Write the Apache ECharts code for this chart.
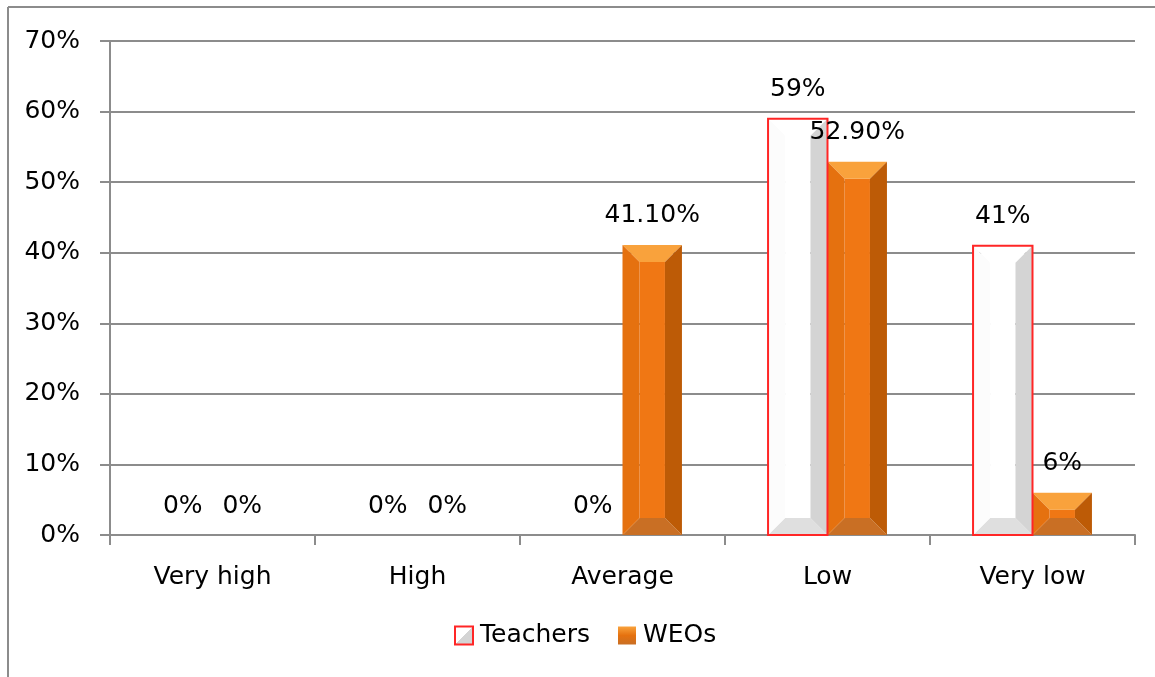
<!DOCTYPE html>
<html>
<head>
<meta charset="utf-8">
<script src="https://cdn.jsdelivr.net/npm/echarts@6/dist/echarts.min.js"></script>
<style>
  html, body { margin: 0; padding: 0; background: #fff; }
  #chart { width: 1155px; height: 677px; }
</style>
</head>
<body>
<div id="chart"></div>
<script>
// data
var categories = ['Very high', 'High', 'Average', 'Low', 'Very low'];
var teachers = [0, 0, 0, 59, 41];
var weos = [0, 0, 41.1, 52.9, 6];
var teacherLabels = ['0%', '0%', '0%', '59%', '41%'];
var weoLabels = ['0%', '0%', '41.10%', '52.90%', '6%'];
var yTicks = [0, 10, 20, 30, 40, 50, 60, 70];

var FONT = '"DejaVu Sans"';
var FS = 25;

// face colours for the bevelled bars
var skins = {
  Teachers: {
    top: '#ffffff', left: '#fcfcfc', mid: '#ffffff', right: '#d4d4d4', bottom: '#dfdfdf',
    border: '#ff2626', offset: -1
  },
  WEOs: {
    top: '#f9a23c', left: '#e5710f', mid: '#f07714', right: '#bd5b06', bottom: '#c96f24',
    border: null, offset: 0
  }
};

function barBox(api, skin) {
  var idx = api.value(0);
  var val = api.value(1);
  var band = api.size([1, 0])[0];
  var w = band * 0.29;
  var base = api.coord([idx, 0]);
  var top = api.coord([idx, val]);
  var x0 = base[0] + skin.offset * w;
  return { x0: x0, x1: x0 + w, w: w, yT: top[1], yB: base[1] };
}

function bevelBar(name) {
  var skin = skins[name];
  return function (params, api) {
    var r = barBox(api, skin);
    var x0 = r.x0, x1 = r.x1, yT = r.yT, yB = r.yB;
    var h = yB - yT;
    var kids = [];
    if (h > 0.5) {
      var b = Math.min(17, h / 2, r.w / 2);
      function poly(pts, c) {
        return { type: 'polygon', shape: { points: pts }, style: { fill: c } };
      }
      kids.push(poly([[x0 + b, yT + b], [x1 - b, yT + b], [x1 - b, yB - b], [x0 + b, yB - b]], skin.mid));
      kids.push(poly([[x0, yT], [x1, yT], [x1 - b, yT + b], [x0 + b, yT + b]], skin.top));
      kids.push(poly([[x0, yB], [x1, yB], [x1 - b, yB - b], [x0 + b, yB - b]], skin.bottom));
      kids.push(poly([[x0, yT], [x0 + b, yT + b], [x0 + b, yB - b], [x0, yB]], skin.left));
      kids.push(poly([[x1, yT], [x1 - b, yT + b], [x1 - b, yB - b], [x1, yB]], skin.right));
      if (skin.border) {
        kids.push({
          type: 'rect',
          shape: { x: x0, y: yT, width: r.w, height: h },
          style: { fill: null, stroke: skin.border, lineWidth: 2 }
        });
      }
    }
    return { type: 'group', children: kids };
  };
}

// labels drawn in their own series so they sit above every bar
function barLabel(name, labels) {
  var skin = skins[name];
  return function (params, api) {
    var r = barBox(api, skin);
    return {
      type: 'text',
      style: {
        text: labels[params.dataIndex],
        x: r.x0 + r.w / 2,
        y: r.yT - 29,
        align: 'center',
        verticalAlign: 'middle',
        font: FS + 'px ' + FONT,
        fill: '#000'
      }
    };
  };
}

function toPairs(arr) {
  return arr.map(function (v, i) { return [i, v]; });
}

var chart = echarts.init(document.getElementById('chart'));

chart.setOption({
  animation: false,
  textStyle: { fontFamily: FONT },
  graphic: [
    { type: 'line', shape: { x1: 8, y1: 7, x2: 1155, y2: 7 }, style: { stroke: '#8c8c8c', lineWidth: 2 } },
    { type: 'line', shape: { x1: 8, y1: 7, x2: 8, y2: 677 }, style: { stroke: '#8c8c8c', lineWidth: 2 } }
  ],
  grid: { left: 110, right: 20, top: 41, bottom: 142, containLabel: false },
  legend: {
    bottom: 24,
    left: 449,
    itemWidth: 18,
    itemHeight: 18,
    itemGap: 28,
    textStyle: { fontSize: FS, color: '#000', fontFamily: FONT, padding: [0, 0, 0, 2] },
    data: [
      {
        name: 'Teachers',
        icon: 'rect',
        itemStyle: {
          color: new echarts.graphic.LinearGradient(0, 0, 1, 1, [
            { offset: 0.5, color: '#ffffff' },
            { offset: 0.5, color: '#d4d4d4' }
          ]),
          borderColor: '#ff2626',
          borderWidth: 2
        }
      },
      {
        name: 'WEOs',
        icon: 'rect',
        itemStyle: {
          color: new echarts.graphic.LinearGradient(0, 0, 0, 1, [
            { offset: 0, color: '#f9a23c' },
            { offset: 0.5, color: '#e5710f' },
            { offset: 1, color: '#c96f24' }
          ])
        }
      }
    ]
  },
  xAxis: {
    type: 'category',
    data: categories,
    axisLine: { lineStyle: { color: '#8c8c8c', width: 2 } },
    axisTick: { show: true, length: 10, lineStyle: { color: '#8c8c8c', width: 2 } },
    axisLabel: { fontSize: FS, color: '#000', margin: 30, fontFamily: FONT },
    splitLine: { show: false }
  },
  yAxis: {
    type: 'value',
    min: 0,
    max: 70,
    interval: 10,
    axisLine: { show: true, lineStyle: { color: '#8c8c8c', width: 2 } },
    axisTick: { show: true, length: 10, lineStyle: { color: '#8c8c8c', width: 2 } },
    axisLabel: {
      fontSize: FS, color: '#000', margin: 30, fontFamily: FONT,
      formatter: function (v) { return yTicks.indexOf(v) >= 0 ? v + '%' : ''; }
    },
    splitLine: { lineStyle: { color: '#8c8c8c', width: 2 } }
  },
  series: [
    {
      name: 'Teachers',
      type: 'custom',
      renderItem: bevelBar('Teachers'),
      encode: { x: 0, y: 1 },
      data: toPairs(teachers),
      z: 3
    },
    {
      name: 'WEOs',
      type: 'custom',
      renderItem: bevelBar('WEOs'),
      encode: { x: 0, y: 1 },
      data: toPairs(weos),
      z: 2
    },
    {
      name: 'Teachers labels',
      type: 'custom',
      renderItem: barLabel('Teachers', teacherLabels),
      encode: { x: 0, y: 1 },
      data: toPairs(teachers),
      silent: true,
      z: 5
    },
    {
      name: 'WEOs labels',
      type: 'custom',
      renderItem: barLabel('WEOs', weoLabels),
      encode: { x: 0, y: 1 },
      data: toPairs(weos),
      silent: true,
      z: 5
    }
  ]
});
</script>
</body>
</html>
